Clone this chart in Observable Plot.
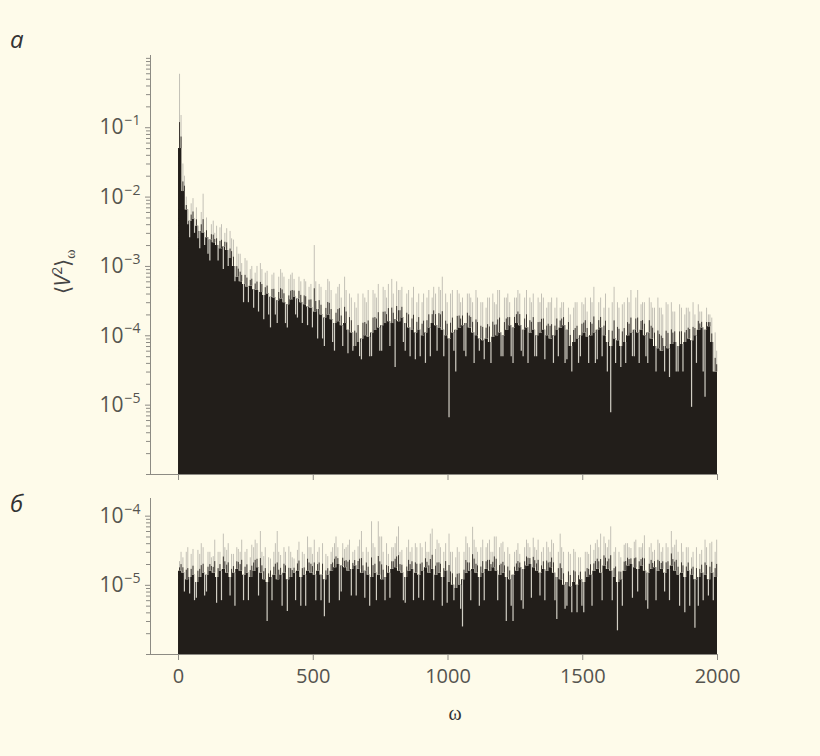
<!DOCTYPE html>
<html><head><meta charset="utf-8">
<script src="https://cdn.jsdelivr.net/npm/d3@7"></script>
<script src="https://cdn.jsdelivr.net/npm/@observablehq/plot@0.6"></script>
<style>
html,body{margin:0;padding:0;background:#fefbea;}
#wrap{position:relative;width:820px;height:756px;background:#fefbea;overflow:hidden;}
#wrap svg{position:absolute;left:0;}
</style></head><body><div id="wrap"></div>
<script>
// ω step of the spectrum bins
const step = 12.5;
const xTicks = [0, 500, 1000, 1500, 2000];
const majorA = [1e-1, 1e-2, 1e-3, 1e-4, 1e-5];
const majorB = [1e-4, 1e-5];

// Panel а: envelope (dark fill) and two single-line spikes per bin
const baseA = [
5.0e-2,1.2e-2,6.5e-3,4.5e-3,4.8e-3,3.8e-3,3.2e-3,3.0e-3,
2.6e-3,2.4e-3,2.2e-3,2.0e-3,1.8e-3,1.9e-3,1.7e-3,1.3e-3,1.0e-3,7.0e-4,
6.0e-4,5.5e-4,5.0e-4,5.2e-4,4.6e-4,4.5e-4,4.2e-4,3.8e-4,4.0e-4,3.6e-4,
3.5e-4,3.2e-4,3.4e-4,3.0e-4,2.8e-4,3.3e-4,3.6e-4,3.4e-4,3.0e-4,2.8e-4,
2.6e-4,2.5e-4,2.2e-4,2.4e-4,2.0e-4,1.8e-4,2.0e-4,1.7e-4,1.5e-4,1.6e-4,1.4e-4,1.5e-4,1.2e-4,1.1e-4,
7.0e-5,8.0e-5,9.0e-5,1.0e-4,9.5e-5,1.1e-4,1.2e-4,1.3e-4,1.4e-4,1.5e-4,
1.6e-4,1.5e-4,1.7e-4,1.6e-4,1.8e-4,1.5e-4,1.3e-4,1.2e-4,1.1e-4,1.2e-4,
1.0e-4,1.1e-4,1.3e-4,1.5e-4,1.4e-4,1.3e-4,1.2e-4,1.0e-4,9.0e-5,1.1e-4,
1.2e-4,1.3e-4,1.4e-4,1.5e-4,1.3e-4,1.1e-4,1.0e-4,9.0e-5,8.5e-5,9.0e-5,
8.0e-5,9.5e-5,1.0e-4,1.1e-4,1.0e-4,1.2e-4,1.4e-4,1.3e-4,1.5e-4,1.4e-4,
1.2e-4,1.3e-4,1.1e-4,1.2e-4,1.0e-4,1.1e-4,1.2e-4,1.0e-4,9.0e-5,1.0e-4,
1.2e-4,1.3e-4,1.4e-4,1.2e-4,7.0e-5,8.0e-5,9.0e-5,1.0e-4,1.1e-4,9.5e-5,
1.0e-4,1.1e-4,1.2e-4,1.3e-4,1.0e-4,8.0e-5,7.0e-5,9.0e-5,8.5e-5,7.0e-5,
8.0e-5,1.0e-4,1.1e-4,1.2e-4,1.1e-4,1.2e-4,1.0e-4,1.1e-4,9.0e-5,7.0e-5,
6.5e-5,6.0e-5,7.0e-5,6.5e-5,7.5e-5,8.0e-5,7.0e-5,7.5e-5,8.0e-5,9.0e-5,
8.5e-5,1.0e-4,1.2e-4,1.3e-4,1.2e-4,1.35e-4,8.0e-5,3.0e-5
];
const spikeA = [
5.9e-1,3.0e-2,1.0e-2,2.6e-3,9.5e-3,7.0e-3,1.8e-3,1.1e-2,
5.0e-3,1.2e-3,4.5e-3,3.8e-3,3.6e-3,9.0e-4,3.5e-3,3.2e-3,2.4e-3,1.9e-3,
1.5e-3,3.0e-4,1.2e-3,9.0e-4,2.5e-4,1.0e-3,1.1e-3,1.7e-4,8.5e-4,1.3e-4,
8.0e-4,1.5e-4,9.0e-4,7.0e-4,1.3e-4,7.5e-4,6.5e-4,1.8e-4,6.0e-4,6.5e-4,
1.4e-4,5.5e-4,2.0e-3,9.0e-5,5.0e-4,7.0e-5,6.5e-4,4.5e-4,6.0e-5,5.0e-4,3.5e-4,7.0e-4,5.5e-5,3.5e-4,
3.0e-4,4.0e-4,4.5e-5,3.5e-4,4.5e-4,5.0e-5,4.0e-4,5.5e-4,6.0e-5,4.5e-4,
5.5e-4,6.5e-4,3.5e-5,4.5e-4,5.0e-4,6.0e-5,4.5e-4,3.5e-4,4.5e-5,4.0e-4,
3.0e-4,4.0e-5,4.5e-4,3.5e-4,4.0e-4,5.0e-4,7.0e-4,4.0e-4,6.6e-6,4.5e-4,
3.0e-5,4.0e-4,3.5e-4,5.0e-5,4.0e-4,3.0e-4,4.5e-4,6.0e-5,3.0e-4,2.5e-4,
3.5e-4,4.0e-4,2.8e-4,4.5e-4,5.0e-5,3.5e-4,3.0e-4,4.0e-5,3.5e-4,4.0e-4,
5.0e-5,4.5e-4,3.5e-4,4.0e-4,5.0e-5,3.0e-4,3.5e-4,2.5e-4,3.0e-4,4.0e-5,
3.5e-4,2.5e-4,3.0e-4,4.5e-5,2.0e-4,2.5e-4,3.0e-4,5.0e-5,2.8e-4,2.2e-4,
3.5e-4,5.0e-4,4.5e-5,3.5e-4,2.5e-4,3.0e-5,7.8e-6,5.0e-4,3.0e-4,3.5e-5,
3.0e-4,3.5e-4,4.5e-4,5.0e-5,4.5e-4,2.8e-4,3.0e-4,4.0e-5,3.0e-4,2.5e-4,
3.5e-4,2.5e-4,3.0e-5,2.8e-4,3.0e-4,2.2e-4,3.0e-5,2.5e-4,2.0e-4,2.5e-4,
9.3e-6,2.0e-4,2.8e-4,2.2e-4,1.3e-5,2.0e-4,1.8e-4,1.1e-4
];
const spike2A = [
1.5e-1,2.0e-2,4.0e-3,8.0e-3,3.0e-3,2.5e-3,6.0e-3,2.0e-3,
1.5e-3,4.0e-3,3.0e-3,1.2e-3,4.0e-3,3.0e-3,1.0e-3,2.5e-3,6.0e-4,1.5e-3,
1.1e-3,1.3e-3,3.0e-4,1.0e-3,8.0e-4,2.2e-4,9.0e-4,8.0e-4,2.0e-4,7.5e-4,
2.0e-4,7.0e-4,8.0e-4,1.5e-4,6.5e-4,8.0e-4,2.0e-4,7.0e-4,1.5e-4,6.0e-4,
5.0e-4,1.3e-4,6.0e-4,5.5e-4,9.0e-5,4.5e-4,6.0e-4,8.0e-5,4.0e-4,5.5e-4,7.0e-5,4.5e-4,4.0e-4,6.0e-5,
2.5e-4,5.0e-5,4.0e-4,3.0e-4,5.0e-5,4.5e-4,3.5e-4,6.0e-5,5.0e-4,3.5e-4,
7.0e-5,4.0e-4,6.0e-4,4.5e-4,8.0e-5,4.0e-4,5.0e-5,5.0e-4,3.0e-4,5.0e-5,
4.0e-4,3.5e-4,5.0e-5,5.0e-4,6.0e-5,4.5e-4,5.0e-5,3.0e-4,4.0e-4,6.0e-5,
4.5e-4,3.0e-4,6.0e-5,4.0e-4,3.5e-4,4.0e-5,3.5e-4,3.0e-4,4.5e-5,3.5e-4,
4.0e-5,3.0e-4,4.5e-4,5.0e-5,3.5e-4,4.0e-4,5.0e-5,3.5e-4,4.5e-4,6.0e-5,
3.5e-4,4.0e-5,3.0e-4,5.0e-5,3.5e-4,4.0e-4,4.5e-5,3.0e-4,3.5e-4,2.5e-4,
5.0e-5,3.0e-4,4.0e-5,2.5e-4,3.0e-5,3.0e-4,4.0e-5,3.0e-4,3.5e-4,4.0e-5,
3.0e-4,4.0e-5,3.0e-4,5.0e-5,4.0e-4,2.5e-4,3.0e-4,4.0e-5,2.5e-4,2.8e-4,
4.0e-5,3.0e-4,5.0e-5,3.5e-4,4.0e-5,3.0e-4,5.0e-5,3.5e-4,2.5e-4,3.0e-5,
2.5e-4,2.0e-4,3.0e-4,2.5e-5,2.2e-4,3.0e-5,2.8e-4,3.0e-5,2.5e-4,2.2e-4,
3.0e-4,4.0e-5,2.2e-4,3.0e-5,2.5e-4,2.0e-4,3.0e-5,6.0e-5
];

// Panel б
const baseB = [
1.6e-5,1.5e-5,1.2e-5,1.3e-5,1.4e-5,1.1e-5,1.3e-5,1.5e-5,1.4e-5,1.6e-5,
1.5e-5,1.3e-5,1.6e-5,1.7e-5,1.5e-5,1.3e-5,1.5e-5,1.7e-5,1.6e-5,1.4e-5,
1.5e-5,1.3e-5,1.6e-5,1.8e-5,1.5e-5,1.2e-5,1.1e-5,1.3e-5,1.4e-5,1.2e-5,
1.4e-5,1.5e-5,1.2e-5,1.3e-5,1.5e-5,1.6e-5,1.3e-5,1.4e-5,1.6e-5,1.5e-5,
1.4e-5,1.6e-5,1.4e-5,1.2e-5,1.4e-5,1.6e-5,1.8e-5,2.0e-5,1.9e-5,1.8e-5,
1.6e-5,1.7e-5,1.9e-5,1.7e-5,1.5e-5,1.6e-5,1.4e-5,1.3e-5,1.5e-5,1.4e-5,
1.2e-5,1.3e-5,1.5e-5,1.7e-5,1.8e-5,1.6e-5,1.5e-5,1.3e-5,1.6e-5,1.7e-5,
1.5e-5,1.4e-5,1.6e-5,1.8e-5,1.5e-5,1.7e-5,1.4e-5,1.5e-5,1.3e-5,1.6e-5,
1.1e-5,1.0e-5,9.0e-6,1.0e-5,1.2e-5,1.5e-5,1.6e-5,1.7e-5,1.5e-5,1.3e-5,
1.5e-5,1.7e-5,1.6e-5,1.8e-5,1.6e-5,1.4e-5,1.5e-5,1.3e-5,1.2e-5,1.4e-5,
1.6e-5,1.8e-5,1.7e-5,1.9e-5,2.0e-5,1.8e-5,1.6e-5,1.5e-5,1.7e-5,1.6e-5,
1.8e-5,1.5e-5,1.3e-5,1.2e-5,1.0e-5,1.1e-5,9.5e-6,1.1e-5,1.0e-5,1.2e-5,
1.1e-5,1.3e-5,1.4e-5,1.6e-5,1.7e-5,1.5e-5,1.9e-5,1.7e-5,1.6e-5,1.3e-5,
1.1e-5,1.2e-5,1.6e-5,1.9e-5,2.0e-5,1.8e-5,1.7e-5,1.9e-5,1.6e-5,1.5e-5,
1.7e-5,1.8e-5,1.6e-5,1.7e-5,1.5e-5,1.7e-5,1.9e-5,1.6e-5,1.4e-5,1.5e-5,
1.3e-5,1.6e-5,1.4e-5,1.2e-5,1.3e-5,1.5e-5,1.4e-5,1.2e-5,1.5e-5,1.3e-5
];
const spikeB = [
2.2e-5,2.5e-5,3.0e-5,7.5e-6,3.3e-5,6.5e-6,2.8e-5,3.5e-5,8.0e-6,3.0e-5,
2.6e-5,5.5e-6,3.0e-5,5.5e-5,3.2e-5,7.0e-6,2.8e-5,3.5e-5,3.0e-5,6.0e-6,
3.3e-5,2.5e-5,3.5e-5,4.0e-5,6.0e-5,2.6e-5,3.0e-6,2.4e-5,3.0e-5,6.0e-5,
2.7e-5,3.5e-5,4.2e-6,3.0e-5,2.4e-5,3.2e-5,5.0e-6,2.8e-5,5.0e-5,3.5e-5,
4.5e-5,3.0e-5,6.0e-6,3.5e-6,2.6e-5,3.0e-5,4.0e-5,3.5e-5,8.0e-6,3.3e-5,
3.8e-5,7.0e-6,3.2e-5,3.6e-5,6.0e-5,6.5e-6,3.0e-5,8.3e-5,3.5e-5,8.3e-5,
5.0e-5,6.0e-6,2.8e-5,3.5e-5,4.0e-5,7.0e-5,3.2e-5,5.5e-6,4.5e-5,3.5e-5,
4.0e-5,6.5e-6,3.5e-5,4.2e-5,3.0e-5,6.5e-5,3.3e-5,4.0e-5,5.0e-6,4.0e-5,
5.5e-5,3.0e-5,2.5e-5,3.0e-5,2.5e-6,5.0e-5,3.5e-5,6.9e-5,3.5e-5,5.0e-6,
4.5e-5,3.5e-5,4.5e-5,3.0e-5,5.0e-5,3.5e-5,4.2e-5,3.0e-6,2.8e-5,3.0e-6,
3.2e-5,2.8e-5,4.5e-6,4.5e-5,3.5e-5,4.8e-5,3.2e-5,7.0e-6,3.5e-5,4.2e-5,
3.0e-5,4.0e-5,3.2e-6,5.5e-5,3.0e-5,5.0e-6,2.8e-5,3.3e-5,4.0e-6,2.5e-5,
4.0e-6,3.0e-5,3.8e-5,3.2e-5,4.5e-5,5.5e-5,5.0e-5,3.5e-5,7.0e-5,3.0e-5,
2.2e-6,2.5e-5,3.8e-5,4.0e-5,3.4e-5,4.2e-5,8.0e-6,3.5e-5,5.2e-5,4.5e-6,
4.0e-5,3.2e-5,4.5e-5,3.0e-5,8.0e-6,3.5e-5,6.0e-5,3.8e-5,3.0e-5,4.0e-5,
4.0e-6,3.5e-5,2.5e-5,2.4e-6,5.0e-6,3.2e-5,4.5e-5,7.0e-6,4.2e-5,3.0e-5
];
const spike2B = [
3.0e-5,8.0e-6,3.5e-5,2.8e-5,6.0e-6,3.2e-5,4.0e-5,7.0e-6,3.0e-5,2.5e-5,
4.5e-5,3.0e-5,6.0e-6,3.5e-5,4.0e-5,2.8e-5,5.0e-6,3.3e-5,4.5e-5,3.0e-5,
6.0e-6,3.8e-5,4.5e-5,7.0e-6,3.0e-5,3.5e-5,2.5e-5,6.0e-6,4.0e-5,3.0e-5,
5.0e-6,3.0e-5,3.6e-5,2.5e-5,6.0e-6,4.2e-5,3.0e-5,5.0e-6,3.5e-5,2.8e-5,
6.0e-6,3.5e-5,4.0e-5,2.8e-5,5.5e-6,3.5e-5,5.0e-5,6.0e-6,4.0e-5,3.5e-5,
4.5e-5,3.0e-5,7.0e-6,4.5e-5,3.0e-5,3.5e-5,5.0e-6,4.0e-5,6.0e-6,5.0e-5,
3.0e-5,4.0e-5,6.5e-6,3.5e-5,5.0e-5,3.0e-5,6.0e-6,3.5e-5,3.0e-5,6.0e-6,
3.5e-5,4.0e-5,6.0e-6,3.0e-5,5.5e-5,6.0e-6,4.5e-5,3.5e-5,3.0e-5,5.5e-6,
3.0e-5,6.0e-6,3.5e-5,4.5e-6,3.0e-5,4.0e-5,6.0e-6,4.5e-5,3.0e-5,3.5e-5,
6.0e-6,4.0e-5,3.0e-5,5.0e-5,6.0e-6,4.0e-5,3.0e-5,3.5e-5,5.0e-6,3.0e-5,
4.0e-5,6.0e-6,3.5e-5,4.0e-5,6.5e-6,3.5e-5,4.5e-5,3.0e-5,6.0e-6,3.5e-5,
4.5e-5,6.0e-6,3.0e-5,3.5e-5,4.5e-6,3.0e-5,4.0e-6,3.0e-5,2.5e-5,5.0e-6,
3.0e-5,2.8e-5,5.0e-6,4.0e-5,3.5e-5,6.0e-6,4.0e-5,4.5e-5,6.0e-6,3.5e-5,
3.0e-5,5.0e-6,4.0e-5,3.5e-5,6.5e-6,4.5e-5,3.5e-5,4.0e-5,6.0e-6,3.5e-5,
3.0e-5,6.0e-6,4.0e-5,3.5e-5,4.0e-5,6.0e-6,3.5e-5,4.5e-5,5.0e-6,3.0e-5,
3.5e-5,5.0e-6,3.0e-5,3.5e-5,2.8e-5,6.0e-6,3.5e-5,4.0e-5,6.0e-6,4.5e-5
];

const axisColor = "#8d8b84";
const labelColor = "#55544f";
const dark = "#221e1a";
const FONT = "'Open Sans', 'Noto Sans', sans-serif";

function panel({base, spikes, yDomain, majors, height, marginTop, marginBottom, labels}) {
  const offsets = [0.3, 0.75];
  const data = base.map((b, i) => ({w0: i * step, base: b}));
  const areaData = [...data, {w0: 2000, base: base[base.length - 1]}];
  const lines = [];
  spikes.forEach((arr, k) => arr.forEach((s, i) => lines.push({w: (i + offsets[k]) * step, base: base[i], s})));
  const ups = lines.filter(d => d.s > d.base).map(d => ({...d, mid: d.base * Math.pow(d.s / d.base, 0.35)}));
  const downs = lines.filter(d => d.s < d.base);
  const minor = [];
  const lo = Math.floor(Math.log10(yDomain[0])), hi = Math.ceil(Math.log10(yDomain[1]));
  for (let e = lo; e <= hi; e++) for (let m = 1; m <= 9; m++) {
    const v = m * Math.pow(10, e);
    if (v >= yDomain[0] * 0.999 && v <= yDomain[1] && !majors.some(t => Math.abs(t - v) / v < 1e-6)) minor.push(v);
  }
  const x0 = -104;
  return Plot.plot({
    width: 820, height, marginLeft: 150, marginRight: 103, marginTop, marginBottom,
    x: {domain: [x0, 2000]},
    y: {type: "log", domain: yDomain},
    style: {background: "transparent", overflow: "visible", fontFamily: FONT},
    marks: [
      Plot.areaY(areaData, {x: "w0", y1: yDomain[0], y2: "base", curve: "step-after", fill: dark}),
      Plot.ruleX(ups, {x: "w", y1: "base", y2: "s", stroke: "#c3c0b6", strokeWidth: 1}),
      Plot.ruleX(ups, {x: "w", y1: "base", y2: "mid", stroke: "#3b3631", strokeWidth: 1}),
      Plot.ruleX(downs, {x: "w", y1: "s", y2: "base", stroke: "#d2cfc5", strokeWidth: 1.2}),
      Plot.ruleX([x0], {y1: yDomain[0], y2: yDomain[1], stroke: axisColor}),
      Plot.ruleY([yDomain[0]], {stroke: axisColor}),
      Plot.axisY({ticks: minor, tickSize: 4, tickFormat: () => "", stroke: axisColor, label: null}),
      Plot.axisY({ticks: majors, tickSize: 5, tickFormat: () => "", stroke: axisColor, label: null}),
      Plot.text(majors, {x: x0, y: d => d, text: () => "10", textAnchor: "end", dx: -27, fontSize: 21, fill: labelColor}),
      Plot.text(majors, {x: x0, y: d => d, text: d => "\u2212" + Math.round(-Math.log10(d)), textAnchor: "start", dx: -26, dy: -7, fontSize: 14, fill: labelColor}),
      Plot.axisX({ticks: xTicks, tickSize: 6, tickPadding: 8, tickFormat: labels ? (d => String(d)) : (() => ""), fontSize: 20, stroke: axisColor, fill: labelColor, label: null})
    ]
  });
}

const wrap = document.getElementById("wrap");
const a = panel({base: baseA, spikes: [spikeA, spike2A], yDomain: [1e-6, 1.1], majors: majorA, height: 490, marginTop: 55, marginBottom: 16, labels: false});
a.style.top = "0px";
wrap.appendChild(a);
const b = panel({base: baseB, spikes: [spikeB, spike2B], yDomain: [1e-6, 1.8e-4], majors: majorB, height: 276, marginTop: 18, marginBottom: 102, labels: true});
b.style.top = "480px";
wrap.appendChild(b);

// overlay texts
const ov = d3.select(wrap).append("svg").attr("width", 820).attr("height", 756).style("top", "0px").style("pointer-events", "none");
ov.append("text").attr("x", 10).attr("y", 48).attr("font-family", FONT).attr("font-style", "italic").attr("font-size", 24).attr("fill", "#333").text("а");
ov.append("text").attr("x", 10).attr("y", 512).attr("font-family", FONT).attr("font-style", "italic").attr("font-size", 24).attr("fill", "#333").text("б");
const yl = ov.append("text").attr("transform", "translate(70,272) rotate(-90)").attr("text-anchor", "middle")
  .attr("font-family", FONT).attr("font-size", 21).attr("fill", "#444");
yl.append("tspan").text("\u27E8");
yl.append("tspan").attr("font-style", "italic").text("V");
yl.append("tspan").attr("dy", -8).attr("font-size", 14).text("2");
yl.append("tspan").attr("dy", 8).text("\u27E9");
yl.append("tspan").attr("dy", 5).attr("font-size", 14).attr("font-family", "'Liberation Serif', serif").text("ω");
ov.append("text").attr("x", 455).attr("y", 720).attr("text-anchor", "middle").attr("font-family", "'Liberation Serif', serif").attr("font-size", 20).attr("fill", "#333").text("ω");
</script></body></html>
